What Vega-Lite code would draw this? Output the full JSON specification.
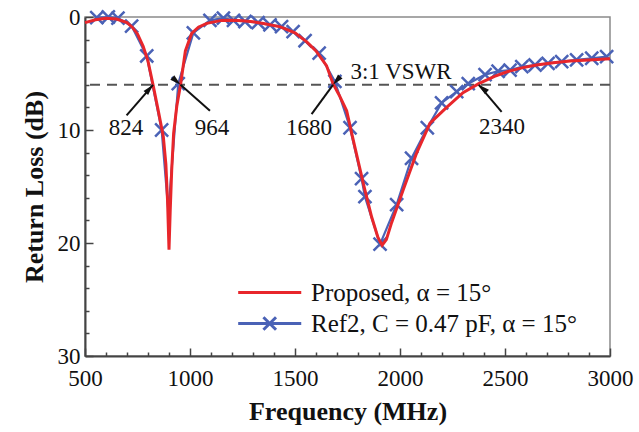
{
  "$schema": "https://vega.github.io/schema/vega-lite/v6.json",
  "width": 525,
  "height": 339,
  "autosize": {"type": "none"},
  "padding": {"left": 85, "top": 17, "right": 29, "bottom": 76},
  "background": "white",
  "config": {
    "view": {"stroke": "#8a8a8a", "strokeWidth": 1.5},
    "font": "Liberation Serif",
    "axis": {
      "labelFont": "Liberation Serif",
      "titleFont": "Liberation Serif",
      "labelFontSize": 23,
      "titleFontSize": 26,
      "titleFontWeight": "bold",
      "labelColor": "#111",
      "titleColor": "#111",
      "domainColor": "#444",
      "domainWidth": 2,
      "tickColor": "#444",
      "tickWidth": 1.5,
      "grid": false
    }
  },
  "resolve": {"axis": {"x": "independent", "y": "independent"}},
  "datasets": {
    "curves": [
      {"series": "Proposed, α = 15°", "freq": 500, "dB": 0.5},
      {"series": "Proposed, α = 15°", "freq": 550, "dB": 0.25},
      {"series": "Proposed, α = 15°", "freq": 600, "dB": 0.12},
      {"series": "Proposed, α = 15°", "freq": 650, "dB": 0.18},
      {"series": "Proposed, α = 15°", "freq": 700, "dB": 0.5},
      {"series": "Proposed, α = 15°", "freq": 725, "dB": 0.9},
      {"series": "Proposed, α = 15°", "freq": 750, "dB": 1.5},
      {"series": "Proposed, α = 15°", "freq": 777, "dB": 2.6},
      {"series": "Proposed, α = 15°", "freq": 800, "dB": 3.9},
      {"series": "Proposed, α = 15°", "freq": 824, "dB": 6.0},
      {"series": "Proposed, α = 15°", "freq": 850, "dB": 8.4},
      {"series": "Proposed, α = 15°", "freq": 873, "dB": 10.6},
      {"series": "Proposed, α = 15°", "freq": 885, "dB": 13.0},
      {"series": "Proposed, α = 15°", "freq": 893, "dB": 16.2},
      {"series": "Proposed, α = 15°", "freq": 900, "dB": 20.6},
      {"series": "Proposed, α = 15°", "freq": 906, "dB": 17.0},
      {"series": "Proposed, α = 15°", "freq": 913, "dB": 13.5},
      {"series": "Proposed, α = 15°", "freq": 922, "dB": 10.3},
      {"series": "Proposed, α = 15°", "freq": 937, "dB": 7.9},
      {"series": "Proposed, α = 15°", "freq": 955, "dB": 6.0},
      {"series": "Proposed, α = 15°", "freq": 978, "dB": 3.0},
      {"series": "Proposed, α = 15°", "freq": 1008, "dB": 1.45},
      {"series": "Proposed, α = 15°", "freq": 1040, "dB": 0.9},
      {"series": "Proposed, α = 15°", "freq": 1080, "dB": 0.56},
      {"series": "Proposed, α = 15°", "freq": 1150, "dB": 0.3},
      {"series": "Proposed, α = 15°", "freq": 1200, "dB": 0.28},
      {"series": "Proposed, α = 15°", "freq": 1250, "dB": 0.33},
      {"series": "Proposed, α = 15°", "freq": 1300, "dB": 0.43},
      {"series": "Proposed, α = 15°", "freq": 1350, "dB": 0.58},
      {"series": "Proposed, α = 15°", "freq": 1430, "dB": 0.87},
      {"series": "Proposed, α = 15°", "freq": 1500, "dB": 1.4},
      {"series": "Proposed, α = 15°", "freq": 1556, "dB": 2.2},
      {"series": "Proposed, α = 15°", "freq": 1600, "dB": 3.0},
      {"series": "Proposed, α = 15°", "freq": 1650, "dB": 4.3},
      {"series": "Proposed, α = 15°", "freq": 1681, "dB": 5.9},
      {"series": "Proposed, α = 15°", "freq": 1710, "dB": 6.9},
      {"series": "Proposed, α = 15°", "freq": 1746, "dB": 8.3},
      {"series": "Proposed, α = 15°", "freq": 1770, "dB": 10.3},
      {"series": "Proposed, α = 15°", "freq": 1800, "dB": 12.7},
      {"series": "Proposed, α = 15°", "freq": 1830, "dB": 15.1},
      {"series": "Proposed, α = 15°", "freq": 1865, "dB": 17.7},
      {"series": "Proposed, α = 15°", "freq": 1895, "dB": 19.5},
      {"series": "Proposed, α = 15°", "freq": 1915, "dB": 20.2},
      {"series": "Proposed, α = 15°", "freq": 1935, "dB": 19.7},
      {"series": "Proposed, α = 15°", "freq": 1960, "dB": 18.2},
      {"series": "Proposed, α = 15°", "freq": 2015, "dB": 15.3},
      {"series": "Proposed, α = 15°", "freq": 2080, "dB": 12.0},
      {"series": "Proposed, α = 15°", "freq": 2143, "dB": 9.4},
      {"series": "Proposed, α = 15°", "freq": 2222, "dB": 8.0},
      {"series": "Proposed, α = 15°", "freq": 2300, "dB": 6.7},
      {"series": "Proposed, α = 15°", "freq": 2375, "dB": 5.9},
      {"series": "Proposed, α = 15°", "freq": 2450, "dB": 5.25},
      {"series": "Proposed, α = 15°", "freq": 2510, "dB": 4.85},
      {"series": "Proposed, α = 15°", "freq": 2580, "dB": 4.5},
      {"series": "Proposed, α = 15°", "freq": 2650, "dB": 4.25},
      {"series": "Proposed, α = 15°", "freq": 2730, "dB": 4.05},
      {"series": "Proposed, α = 15°", "freq": 2810, "dB": 3.9},
      {"series": "Proposed, α = 15°", "freq": 2900, "dB": 3.8},
      {"series": "Proposed, α = 15°", "freq": 3000, "dB": 3.7},
      {"series": "Ref2, C = 0.47 pF, α = 15°", "freq": 556, "dB": 0.05},
      {"series": "Ref2, C = 0.47 pF, α = 15°", "freq": 611, "dB": 0.0},
      {"series": "Ref2, C = 0.47 pF, α = 15°", "freq": 657, "dB": 0.1},
      {"series": "Ref2, C = 0.47 pF, α = 15°", "freq": 722, "dB": 0.8},
      {"series": "Ref2, C = 0.47 pF, α = 15°", "freq": 794, "dB": 3.45},
      {"series": "Ref2, C = 0.47 pF, α = 15°", "freq": 865, "dB": 10.0},
      {"series": "Ref2, C = 0.47 pF, α = 15°", "freq": 897, "dB": 17.2},
      {"series": "Ref2, C = 0.47 pF, α = 15°", "freq": 944, "dB": 5.9},
      {"series": "Ref2, C = 0.47 pF, α = 15°", "freq": 1016, "dB": 1.4},
      {"series": "Ref2, C = 0.47 pF, α = 15°", "freq": 1095, "dB": 0.3},
      {"series": "Ref2, C = 0.47 pF, α = 15°", "freq": 1159, "dB": 0.1},
      {"series": "Ref2, C = 0.47 pF, α = 15°", "freq": 1207, "dB": 0.3},
      {"series": "Ref2, C = 0.47 pF, α = 15°", "freq": 1262, "dB": 0.4},
      {"series": "Ref2, C = 0.47 pF, α = 15°", "freq": 1324, "dB": 0.5},
      {"series": "Ref2, C = 0.47 pF, α = 15°", "freq": 1381, "dB": 0.7},
      {"series": "Ref2, C = 0.47 pF, α = 15°", "freq": 1436, "dB": 0.85},
      {"series": "Ref2, C = 0.47 pF, α = 15°", "freq": 1491, "dB": 1.3},
      {"series": "Ref2, C = 0.47 pF, α = 15°", "freq": 1548, "dB": 2.1},
      {"series": "Ref2, C = 0.47 pF, α = 15°", "freq": 1615, "dB": 3.2},
      {"series": "Ref2, C = 0.47 pF, α = 15°", "freq": 1690, "dB": 5.7},
      {"series": "Ref2, C = 0.47 pF, α = 15°", "freq": 1762, "dB": 9.8},
      {"series": "Ref2, C = 0.47 pF, α = 15°", "freq": 1817, "dB": 14.3},
      {"series": "Ref2, C = 0.47 pF, α = 15°", "freq": 1833, "dB": 15.9},
      {"series": "Ref2, C = 0.47 pF, α = 15°", "freq": 1905, "dB": 20.1},
      {"series": "Ref2, C = 0.47 pF, α = 15°", "freq": 1984, "dB": 16.6},
      {"series": "Ref2, C = 0.47 pF, α = 15°", "freq": 2055, "dB": 12.5},
      {"series": "Ref2, C = 0.47 pF, α = 15°", "freq": 2130, "dB": 9.8},
      {"series": "Ref2, C = 0.47 pF, α = 15°", "freq": 2198, "dB": 7.6},
      {"series": "Ref2, C = 0.47 pF, α = 15°", "freq": 2270, "dB": 6.6},
      {"series": "Ref2, C = 0.47 pF, α = 15°", "freq": 2325, "dB": 5.9},
      {"series": "Ref2, C = 0.47 pF, α = 15°", "freq": 2405, "dB": 5.1},
      {"series": "Ref2, C = 0.47 pF, α = 15°", "freq": 2467, "dB": 4.8},
      {"series": "Ref2, C = 0.47 pF, α = 15°", "freq": 2524, "dB": 4.7},
      {"series": "Ref2, C = 0.47 pF, α = 15°", "freq": 2580, "dB": 4.4},
      {"series": "Ref2, C = 0.47 pF, α = 15°", "freq": 2643, "dB": 4.25},
      {"series": "Ref2, C = 0.47 pF, α = 15°", "freq": 2705, "dB": 4.1},
      {"series": "Ref2, C = 0.47 pF, α = 15°", "freq": 2770, "dB": 3.95},
      {"series": "Ref2, C = 0.47 pF, α = 15°", "freq": 2841, "dB": 3.8},
      {"series": "Ref2, C = 0.47 pF, α = 15°", "freq": 2913, "dB": 3.65},
      {"series": "Ref2, C = 0.47 pF, α = 15°", "freq": 2984, "dB": 3.5}
    ],
    "arrows": [
      {"label": "824", "tail_freq": 698, "tail_dB": 8.7, "head_freq": 824, "head_dB": 6.0},
      {"label": "964", "tail_freq": 1095, "tail_dB": 8.3, "head_freq": 955, "head_dB": 6.0},
      {"label": "1680", "tail_freq": 1579, "tail_dB": 8.6, "head_freq": 1681, "head_dB": 6.0},
      {"label": "2340", "tail_freq": 2484, "tail_dB": 8.4, "head_freq": 2375, "head_dB": 6.0}
    ],
    "notes": [
      {"text": "824", "freq": 695, "dB": 9.82},
      {"text": "964", "freq": 1105, "dB": 9.82},
      {"text": "1680", "freq": 1567, "dB": 9.82},
      {"text": "2340", "freq": 2486, "dB": 9.75},
      {"text": "3:1 VSWR", "freq": 2005, "dB": 4.9}
    ]
  },
  "layer": [
    {
      "data": {"values": [{}]},
      "mark": {"type": "rule", "stroke": "#555", "strokeWidth": 2, "strokeDash": [10, 7]},
      "encoding": {"y": {"datum": 6, "type": "quantitative", "axis": null}}
    },
    {
      "data": {"name": "curves"},
      "transform": [{"filter": "datum.series === 'Ref2, C = 0.47 pF, α = 15°'"}],
      "mark": {"type": "line", "strokeWidth": 2.2},
      "encoding": {
        "x": {
          "field": "freq", "type": "quantitative",
          "scale": {"domain": [500, 3000], "nice": false, "zero": false},
          "axis": {
            "orient": "bottom",
            "title": "Frequency (MHz)",
            "values": [500, 1000, 1500, 2000, 2500, 3000],
            "format": "d",
            "tickSize": -8,
            "labelPadding": 19,
            "titlePadding": 8,
            "labelFlush": false
          }
        },
        "y": {
          "field": "dB", "type": "quantitative",
          "scale": {"domain": [0, 30], "nice": false, "reverse": true},
          "axis": {
            "orient": "left",
            "title": "Return Loss (dB)",
            "values": [0, 10, 20, 30],
            "tickSize": -8,
            "labelPadding": 13,
            "titlePadding": 10,
            "labelFlush": false
          }
        },
        "order": {"field": "freq", "type": "quantitative"},
        "color": {
          "field": "series", "type": "nominal",
          "scale": {"domain": ["Proposed, α = 15°", "Ref2, C = 0.47 pF, α = 15°"], "range": ["#e8262b", "#4a62b6"]},
          "legend": {
            "title": null,
            "orient": "none",
            "legendX": 147,
            "legendY": 263,
            "padding": 0,
            "labelFont": "Liberation Serif",
            "labelFontSize": 25,
            "labelColor": "#111",
            "labelLimit": 400,
            "symbolSize": 159,
            "symbolStrokeWidth": 3,
            "labelOffset": 54,
            "rowPadding": 5,
            "encode": {
              "symbols": {
                "update": {
                  "shape": {"signal": "datum.value === 'Proposed, α = 15°' ? 'M -1 0 L 9 0' : 'M -1 0 L 9 0 M 3 -1 L 5 1 M 3 1 L 5 -1'"},
                  "stroke": {"signal": "datum.value === 'Proposed, α = 15°' ? '#e8262b' : '#4a62b6'"},
                  "fill": {"value": "transparent"},
                  "strokeWidth": {"value": 3},
                  "opacity": {"value": 1}
                }
              }
            }
          }
        }
      }
    },
    {
      "data": {"name": "curves"},
      "transform": [
        {"filter": "datum.series === 'Ref2, C = 0.47 pF, α = 15°'"},
        {"filter": "datum.freq < 880 || datum.freq > 920"}
      ],
      "mark": {"type": "point", "shape": "M -1 -1 L 1 1 M -1 1 L 1 -1", "filled": false, "size": 170, "strokeWidth": 2.5, "opacity": 1},
      "encoding": {
        "x": {
          "field": "freq", "type": "quantitative",
          "axis": {
            "orient": "bottom", "title": null, "labels": false, "domain": false,
            "values": [600, 700, 800, 900, 1100, 1200, 1300, 1400, 1600, 1700, 1800, 1900, 2100, 2200, 2300, 2400, 2600, 2700, 2800, 2900],
            "tickSize": -4
          }
        },
        "y": {
          "field": "dB", "type": "quantitative",
          "axis": {
            "orient": "left", "title": null, "labels": false, "domain": false,
            "values": [2, 4, 6, 8, 12, 14, 16, 18, 22, 24, 26, 28],
            "tickSize": -4
          }
        },
        "color": {"field": "series", "type": "nominal"}
      }
    },
    {
      "data": {"name": "curves"},
      "transform": [{"filter": "datum.series === 'Proposed, α = 15°'"}],
      "mark": {"type": "line", "strokeWidth": 3},
      "encoding": {
        "x": {"field": "freq", "type": "quantitative", "axis": null},
        "y": {"field": "dB", "type": "quantitative", "axis": null},
        "order": {"field": "freq", "type": "quantitative"},
        "color": {"field": "series", "type": "nominal"}
      }
    },
    {
      "data": {"name": "arrows"},
      "mark": {"type": "rule", "color": "#111", "strokeWidth": 2},
      "encoding": {
        "x": {"field": "tail_freq", "type": "quantitative", "axis": null},
        "y": {"field": "tail_dB", "type": "quantitative", "axis": null},
        "x2": {"field": "head_freq"},
        "y2": {"field": "head_dB"}
      }
    },
    {
      "data": {"name": "arrows"},
      "mark": {"type": "point", "shape": "M 0 0 L 0.55 2 L -0.55 2 Z", "filled": true, "color": "#111", "size": 120, "opacity": 1},
      "encoding": {
        "x": {"field": "head_freq", "type": "quantitative", "axis": null},
        "y": {"field": "head_dB", "type": "quantitative", "axis": null},
        "angle": {
          "field": "label", "type": "nominal",
          "scale": {"domain": ["824", "964", "1680", "2340"], "range": [41, 311.5, 36, 320]},
          "legend": null
        }
      }
    },
    {
      "data": {"name": "notes"},
      "mark": {"type": "text", "font": "Liberation Serif", "fontSize": 23, "color": "#111", "align": "center", "baseline": "middle"},
      "encoding": {
        "x": {"field": "freq", "type": "quantitative", "axis": null},
        "y": {"field": "dB", "type": "quantitative", "axis": null},
        "text": {"field": "text"}
      }
    }
  ]
}
